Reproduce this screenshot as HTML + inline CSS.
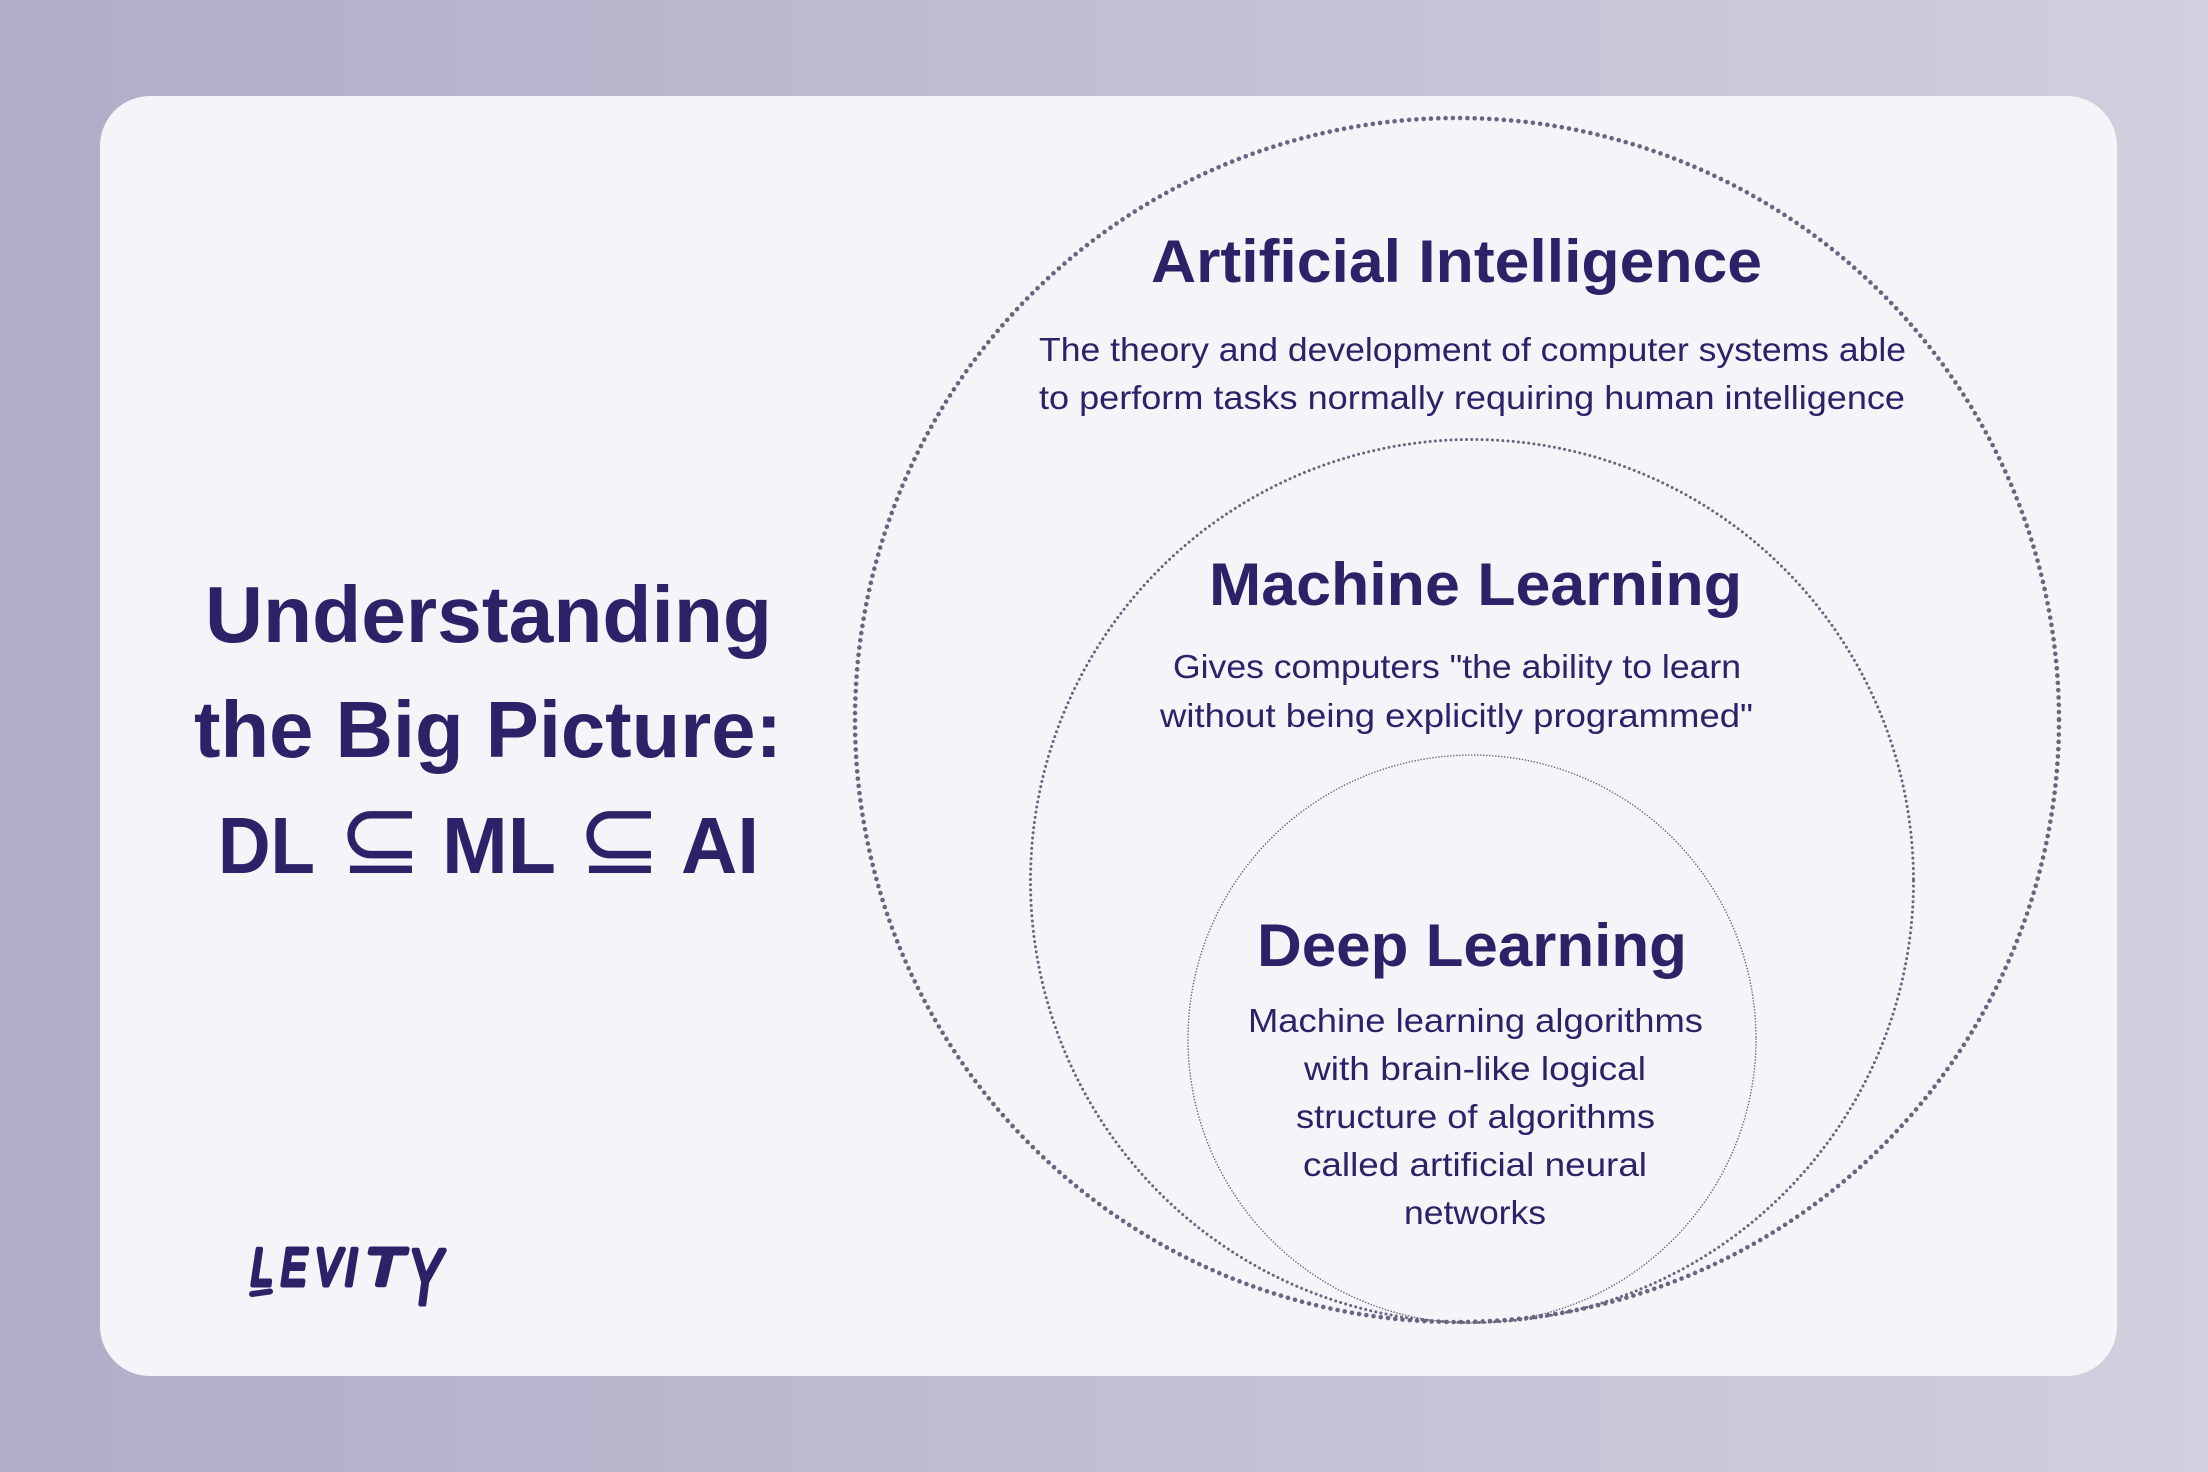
<!DOCTYPE html>
<html><head><meta charset="utf-8"><style>
html,body{margin:0;padding:0;width:2208px;height:1472px;overflow:hidden;background:#bfbad3}
svg{display:block}
text{font-family:"Liberation Sans",sans-serif;fill:#2b2268}
.t{font-weight:700;font-size:80px}
.h{font-weight:700;font-size:60px}
.b{font-size:33px}
.s{font-family:"DejaVu Sans",sans-serif;font-size:101px}
.l{font-style:italic;font-size:52px;stroke:#2b2268;stroke-width:5;stroke-linejoin:round}
</style></head><body>
<svg width="2208" height="1472" viewBox="0 0 2208 1472" xmlns="http://www.w3.org/2000/svg">
<defs><linearGradient id="g" x1="0" y1="0" x2="1" y2="0"><stop offset="0" stop-color="#b1acc8"/><stop offset="1" stop-color="#d2cfde"/></linearGradient></defs>
<rect width="2208" height="1472" fill="url(#g)"/>
<rect x="100" y="96" width="2017" height="1280" rx="50" fill="#f4f4f9"/>
<g fill="none" stroke="#69647f" stroke-linecap="round">
<circle cx="1457" cy="720" r="602" stroke-width="4.6" stroke-dasharray="0 7.3"/>
<circle cx="1472" cy="881" r="441.500" stroke-width="3" stroke-dasharray="0 5.2"/>
<circle cx="1472" cy="1039" r="284" stroke-width="1.6" stroke-dasharray="0 3"/>
</g>
<text class="t" x="205" y="642" textLength="567" lengthAdjust="spacingAndGlyphs">Understanding</text>
<text class="t" x="194" y="757" textLength="588" lengthAdjust="spacingAndGlyphs">the Big Picture:</text>
<text class="t" x="218" y="873" textLength="97" lengthAdjust="spacingAndGlyphs">DL</text>
<text class="s" x="338" y="873">⊆</text>
<text class="t" x="442" y="873" textLength="114" lengthAdjust="spacingAndGlyphs">ML</text>
<text class="s" x="577" y="873">⊆</text>
<text class="t" x="681" y="873" textLength="78" lengthAdjust="spacingAndGlyphs">AI</text>

<text class="h" x="1151" y="282" textLength="611" lengthAdjust="spacingAndGlyphs">Artificial Intelligence</text>
<text class="b" x="1039" y="361" textLength="867" lengthAdjust="spacingAndGlyphs">The theory and development of computer systems able</text>
<text class="b" x="1039" y="409" textLength="866" lengthAdjust="spacingAndGlyphs">to perform tasks normally requiring human intelligence</text>

<text class="h" x="1209" y="605" textLength="533" lengthAdjust="spacingAndGlyphs">Machine Learning</text>
<text class="b" x="1173" y="678" textLength="568" lengthAdjust="spacingAndGlyphs">Gives computers "the ability to learn</text>
<text class="b" x="1160" y="727" textLength="593" lengthAdjust="spacingAndGlyphs">without being explicitly programmed"</text>

<text class="h" x="1257" y="966" textLength="430" lengthAdjust="spacingAndGlyphs">Deep Learning</text>
<text class="b" x="1248" y="1032" textLength="455" lengthAdjust="spacingAndGlyphs">Machine learning algorithms</text>
<text class="b" x="1304" y="1080" textLength="342" lengthAdjust="spacingAndGlyphs">with brain-like logical</text>
<text class="b" x="1296" y="1128" textLength="359" lengthAdjust="spacingAndGlyphs">structure of algorithms</text>
<text class="b" x="1303" y="1176" textLength="344" lengthAdjust="spacingAndGlyphs">called artificial neural</text>
<text class="b" x="1404" y="1224" textLength="142" lengthAdjust="spacingAndGlyphs">networks</text>

<text class="l" x="251" y="1285" textLength="22" lengthAdjust="spacingAndGlyphs">L</text>
<text class="l" x="281" y="1285" textLength="26" lengthAdjust="spacingAndGlyphs">E</text>
<text class="l" x="315" y="1285" textLength="26" lengthAdjust="spacingAndGlyphs">V</text>
<text class="l" x="345" y="1285" textLength="12" lengthAdjust="spacingAndGlyphs">I</text>
<text class="l" x="365" y="1285" textLength="38" lengthAdjust="spacingAndGlyphs">T</text>
<text class="l" x="408" y="1304" style="font-size:78px" textLength="34" lengthAdjust="spacingAndGlyphs">Y</text>
<path d="M252 1294L270 1291.500" stroke="#2b2268" stroke-width="6" stroke-linecap="round" fill="none"/>
</svg>
</body></html>
